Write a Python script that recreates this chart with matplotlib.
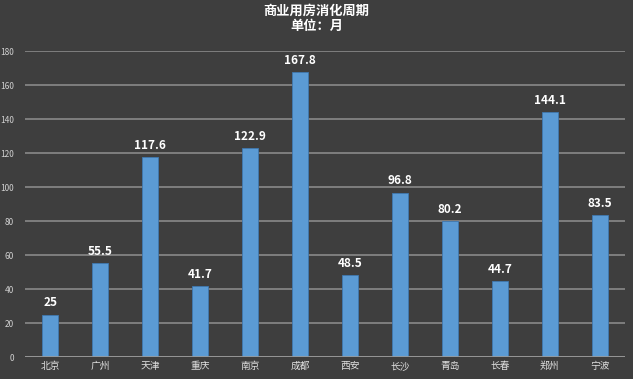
import matplotlib
matplotlib.use('Agg')
import matplotlib.pyplot as plt

plt.rcParams['font.family'] = ['Noto Sans CJK SC', 'DejaVu Sans']

# 各城市商业用房消化周期（月）
cities = ['北京', '广州', '天津', '重庆', '南京', '成都', '西安', '长沙', '青岛', '长春', '郑州', '宁波']
months = [25, 55.5, 117.6, 41.7, 122.9, 167.8, 48.5, 96.8, 80.2, 44.7, 144.1, 83.5]
y_ticks = [0, 20, 40, 60, 80, 100, 120, 140, 160, 180]

bg = '#3e3e3e'
fig = plt.figure(figsize=(6.33, 3.79), dpi=100, facecolor=bg)
ax = fig.add_axes([0.04, 0.058, 0.947, 0.807], facecolor=bg)

x = range(len(cities))
ax.set_axisbelow(True)
ax.yaxis.grid(True, color='#8f8f8f', linewidth=1.1)
bars = ax.bar(x, months, width=0.32, color='#5b9bd5', edgecolor='#3f78b0', linewidth=0.6)

for xi, v in zip(x, months):
    ax.text(xi, v + 3, f'{v:g}', ha='center', va='bottom',
            color='white', fontsize=8.5, fontweight='bold')

ax.set_xlim(-0.5, len(cities) - 0.5)
ax.set_ylim(0, 180)
ax.set_yticks(y_ticks)
ax.set_xticks(list(x))
ax.set_xticklabels(cities)
ax.tick_params(axis='y', colors='#d0d0d0', labelsize=6, length=0, pad=8)
ax.tick_params(axis='x', colors='#e0e0e0', labelsize=7, length=0, pad=3)
for s in ax.spines.values():
    s.set_visible(False)
ax.axhline(0, color='#9a9a9a', linewidth=1.2)

fig.text(0.5, 0.99, '商业用房消化周期\n单位：月', ha='center', va='top',
         color='white', fontsize=9.5, fontweight='bold', linespacing=1.1)

fig.savefig('out.png', dpi=100, facecolor=bg)
